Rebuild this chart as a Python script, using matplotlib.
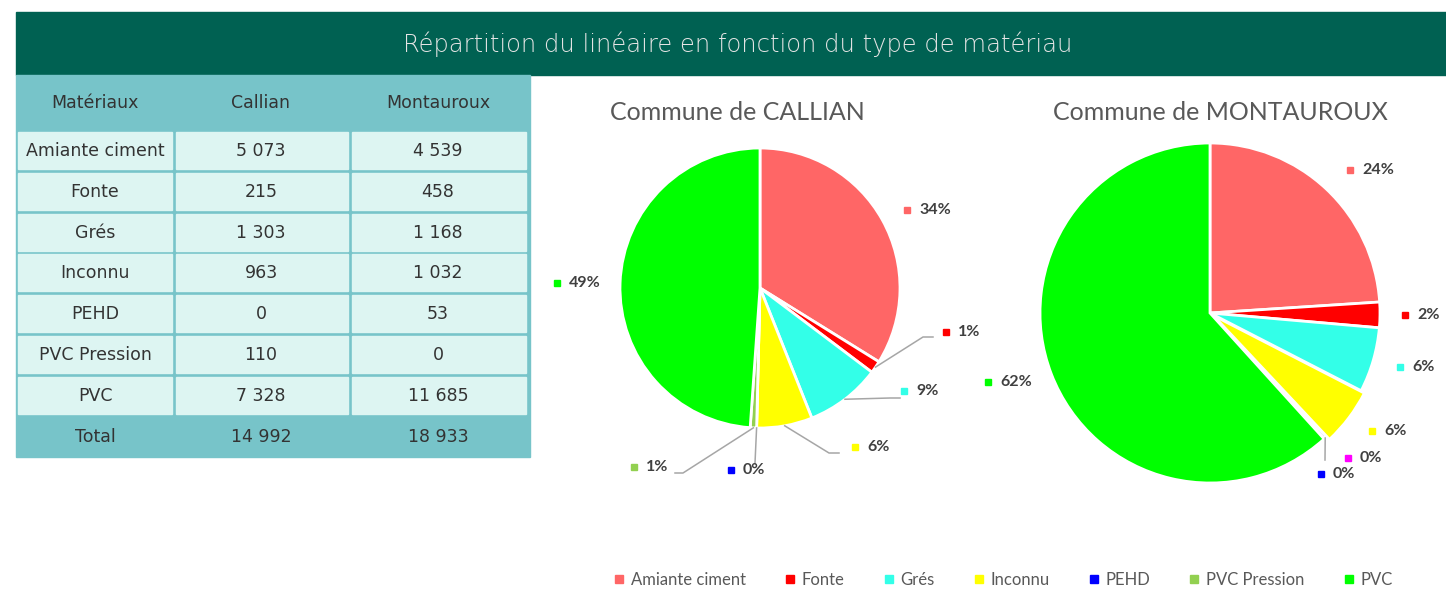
import numpy as np
import matplotlib
matplotlib.use("Agg")
import matplotlib.pyplot as plt
from matplotlib.patches import Rectangle
from matplotlib.lines import Line2D

W, H = 1446, 590

# ---- data ----
materials = ["Amiante ciment", "Fonte", "Grés", "Inconnu", "PEHD", "PVC Pression", "PVC"]
callian = [5073, 215, 1303, 963, 0, 110, 7328]
montauroux = [4539, 458, 1168, 1032, 53, 0, 11685]
totals = [14992, 18933]
pct_callian = ["34%", "1%", "9%", "6%", "0%", "1%", "49%"]
pct_montauroux = ["24%", "2%", "6%", "6%", "0%", "0%", "62%"]

colors = ["#FF6666", "#FF0000", "#33FFE8", "#FFFF00", "#0000FF", "#92D050", "#00FF00"]
colors_mont = ["#FF6666", "#FF0000", "#33FFE8", "#FFFF00", "#0000FF", "#FF00FF", "#00FF00"]

# ---- layout (pixel positions of label markers / leader elbows) ----
lab_callian = [(907, 210), (946, 332), (904, 391), (855, 447), (731, 470), (634, 467), (557, 283)]
elb_callian = [None, (923, 337), (890, 398), (829, 453), (755, 463), (683, 473), None]
lab_mont = [(1350, 170), (1405, 315), (1400, 367), (1372, 431), (1321, 474), (1348, 458), (988, 382)]
elb_mont = [None, None, None, None, (1325, 460), None, None]

TEAL = "#77C4C9"
LIGHT = "#DDF5F2"
DARK = "#006152"
TXT = "#333333"
LBL = "#404040"


def Y(y):
    return H - y


def fmt(v):
    return f"{v:,}".replace(",", " ")


fig = plt.figure(figsize=(W / 100, H / 100), dpi=100)
ax = fig.add_axes([0, 0, 1, 1])
ax.set_xlim(0, W)
ax.set_ylim(0, H)
ax.axis("off")

# header band
ax.add_patch(Rectangle((16, Y(75)), W - 16, 63, color=DARK, zorder=1))
ax.text(738, Y(44), "Répartition du linéaire en fonction du type de matériau",
        ha="center", va="center", color="#E4E4E4", fontsize=17.5,
        family="DejaVu Sans", fontweight="light", zorder=2)

# table
ax.add_patch(Rectangle((16, Y(457)), 514, 382, color=TEAL, zorder=1))
cols = [(18, 171.5), (175.5, 348), (352, 526)]
xc = [95, 261, 438]
fs = 12.5
for x, s in zip(xc, ["Matériaux", "Callian", "Montauroux"]):
    ax.text(x, Y(103), s, ha="center", va="center", color=TXT, fontsize=fs)
for i, name in enumerate(materials):
    top = 132 + i * 40.8
    for x0, x1 in cols:
        ax.add_patch(Rectangle((x0, Y(top + 37)), x1 - x0, 37, color=LIGHT, zorder=2))
    yc = Y(top + 19)
    for x, s in zip(xc, [name, fmt(callian[i]), fmt(montauroux[i])]):
        ax.text(x, yc, s, ha="center", va="center", color=TXT, fontsize=fs, zorder=3)
for x, s in zip(xc, ["Total", fmt(totals[0]), fmt(totals[1])]):
    ax.text(x, Y(437), s, ha="center", va="center", color=TXT, fontsize=fs)


def draw_pie(values, cols_, center, radius, title, title_x, labels, lab_pos, elbows, explode=None):
    cx, cy = center
    vals = np.array(values, dtype=float)
    ax.pie(vals, colors=cols_, startangle=90, counterclock=False,
           center=(cx, Y(cy)), radius=radius, explode=explode,
           wedgeprops=dict(edgecolor="white", linewidth=2), frame=True)
    ax.text(title_x, Y(113), title, ha="center", va="center", color="#595959",
            fontsize=18, family="Lato")
    frac = np.cumsum(vals) / vals.sum()
    start = np.concatenate([[0], frac[:-1]])
    for k in range(len(vals)):
        mx, my = lab_pos[k]
        ax.plot(mx, Y(my), "s", color=cols_[k], markersize=5, zorder=5)
        ax.text(mx + 12, Y(my), labels[k], ha="left", va="center", color=LBL,
                fontsize=11.5, fontweight="bold", family="Lato", zorder=5)
        if elbows[k] is not None:
            mid = (start[k] + frac[k]) / 2
            ang = np.deg2rad(90 - 360 * mid)
            sx, sy = cx + radius * np.cos(ang), cy - radius * np.sin(ang)
            ex, ey = elbows[k]
            px = [sx, ex]
            py = [sy, ey]
            if abs(ex - sx) > 3:
                px.append(ex + (10 if ex > sx else -8))
                py.append(ey)
            ax.plot(px, [Y(v) for v in py], color="#A6A6A6", lw=1.1, zorder=4)


draw_pie(callian, colors, (760, 288), 140, "Commune de CALLIAN", 737,
         pct_callian, lab_callian, elb_callian)
draw_pie(montauroux, colors_mont, (1210, 313), 170, "Commune de MONTAUROUX", 1220,
         pct_montauroux, lab_mont, elb_mont, explode=[0, 0, 0, 4, 0, 0, 0])

ax.set_xlim(0, W)
ax.set_ylim(0, H)
ax.set_aspect("equal")
ax.axis("off")

handles = [Line2D([], [], marker="s", ls="none", color=c, markersize=5.5) for c in colors]
ax.legend(handles, materials, loc="center", bbox_to_anchor=(1003 / W, Y(580) / H),
          ncol=7, frameon=False, handlelength=0.7, handletextpad=0.35, columnspacing=2.3,
          prop=dict(family="Lato", size=12), labelcolor="#595959")

fig.savefig("out.png", dpi=100)
